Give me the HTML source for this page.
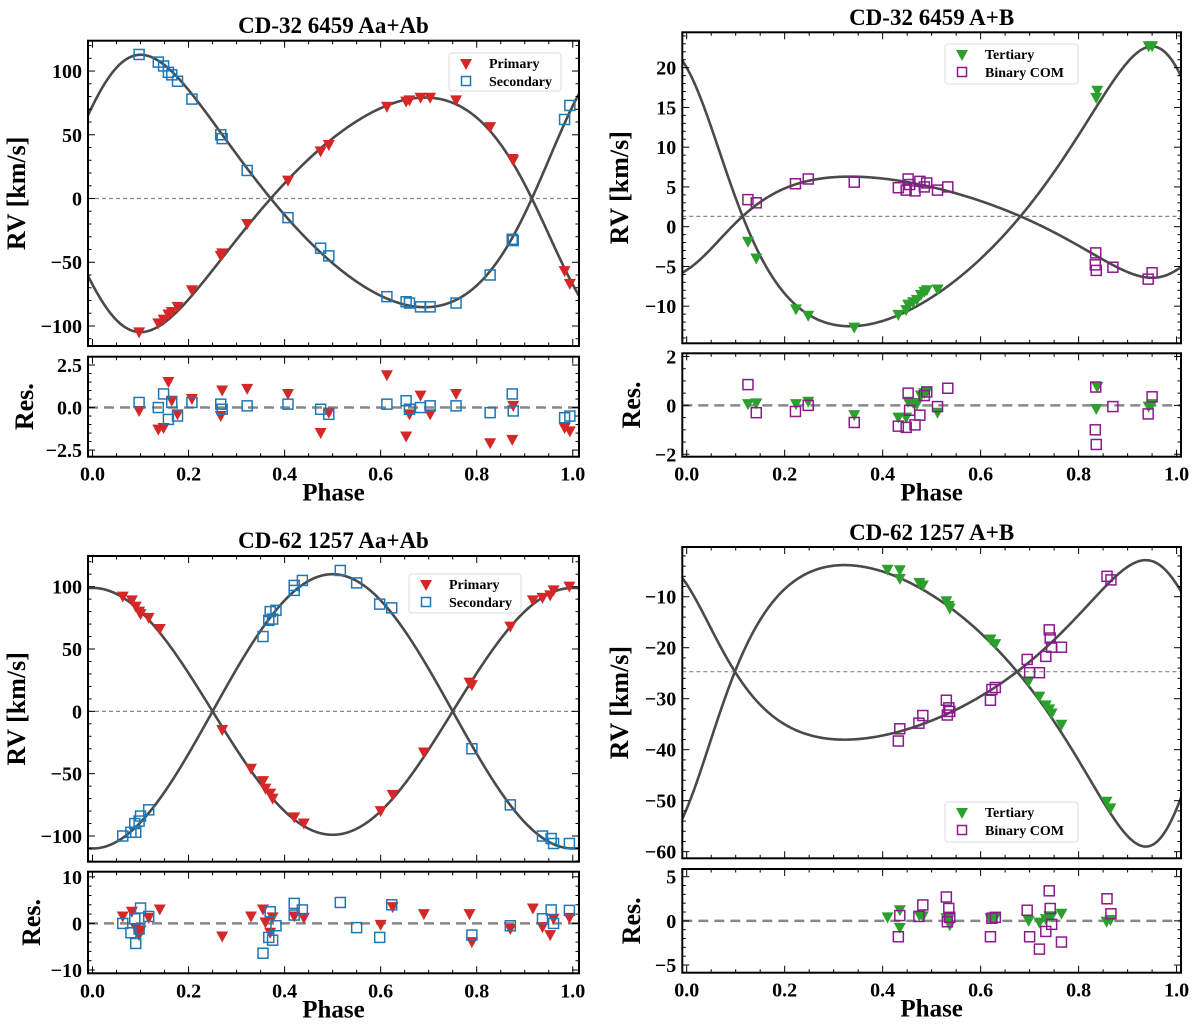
<!DOCTYPE html>
<html><head><meta charset="utf-8"><title>RV curves</title>
<style>
html,body{margin:0;padding:0;background:#fff;}
svg{display:block;font-family:"Liberation Serif",serif;}
</style></head>
<body>
<svg id="fig" width="1200" height="1028" viewBox="0 0 1200 1028" xmlns="http://www.w3.org/2000/svg"></svg>
<script>
// ---------- Panel 1: CD-32 6459 Aa+Ab ----------
const tlPriPhase=[0.097,0.137,0.148,0.158,0.165,0.177,0.207,0.267,0.27,0.322,0.407,0.475,0.492,0.613,0.653,0.66,0.683,0.703,0.757,0.828,0.874,0.876,0.983,0.994];
const tlPriRV=[-105,-98,-95,-91,-89,-85,-72,-45,-43,-20,14,37,42,72,76,77,79,79,77,56,31,30,-57,-67];
const tlPriRes=[-0.2,-1.3,-1.2,1.5,0.4,-0.4,0.5,-0.5,1.0,1.1,0.8,-1.5,-0.3,1.9,-1.7,-0.4,0.7,-0.4,0.8,-2.1,-1.9,0.1,-1.2,-1.4];
const tlSecPhase=[0.097,0.137,0.148,0.158,0.165,0.177,0.207,0.267,0.27,0.322,0.407,0.475,0.492,0.613,0.653,0.66,0.683,0.703,0.757,0.828,0.874,0.876,0.983,0.994];
const tlSecRV=[113,107,104,99,97,92,78,50,47,22,-15,-39,-45,-77,-81,-82,-85,-85,-82,-60,-32,-33,62,73];
const tlSecRes=[0.3,0.0,0.8,-0.7,0.3,-0.5,0.3,0.2,-0.1,0.1,0.2,-0.1,-0.4,0.2,0.4,-0.1,0.0,0.1,0.1,-0.3,0.8,-0.2,-0.6,-0.5];
// orbit: e, omega(deg), T0, K1, K2, gamma
const tlOrbit=[0.2,134,0.0136,92,99,0];

// ---------- Panel 2: CD-32 6459 A+B ----------
const trTerPhase=[0.125,0.142,0.223,0.248,0.342,0.432,0.448,0.452,0.462,0.47,0.478,0.485,0.49,0.512,0.836,0.838,0.943,0.95];
const trTerRV=[-1.9,-4.0,-10.4,-11.2,-12.7,-11.1,-10.5,-9.8,-9.5,-9.2,-8.6,-8.2,-8.0,-7.9,16.2,17.1,22.7,22.7];
const trTerRes=[0.05,0.08,0.05,0.15,-0.4,-0.5,-0.5,0.15,0.1,0.05,0.4,0.5,0.55,-0.3,-0.15,0.75,-0.05,0.05];
const trComPhase=[0.125,0.142,0.222,0.248,0.342,0.432,0.448,0.452,0.455,0.466,0.476,0.485,0.49,0.512,0.533,0.835,0.834,0.836,0.87,0.942,0.95];
const trComRV=[3.4,3.0,5.4,6.0,5.6,4.9,4.6,6.0,5.3,4.5,5.7,5.0,5.5,4.6,5.0,-3.3,-4.8,-5.5,-5.1,-6.6,-5.8];
const trComRes=[0.85,-0.3,-0.25,0.0,-0.7,-0.85,-0.9,0.5,-0.2,-0.8,-0.4,0.4,0.55,-0.05,0.7,0.75,-1.0,-1.6,-0.05,-0.35,0.35];
const trOrbit=[0.28,40,0.012,17.6,6.36,1.3];

// ---------- Panel 3: CD-62 1257 Aa+Ab ----------
const blPriPhase=[0.063,0.082,0.09,0.097,0.1,0.117,0.14,0.27,0.33,0.355,0.36,0.37,0.375,0.42,0.44,0.6,0.625,0.69,0.785,0.79,0.87,0.917,0.937,0.953,0.96,0.993];
const blPriRV=[92,89,84,80,78,75,66,-15,-46,-56,-62,-66,-70,-85,-90,-80,-67,-33,23,21,68,89,91,93,97,100];
const blPriRes=[1.5,2.5,-1,-2.5,-1.5,1.2,3,-2.8,1.5,3,0.2,-2,1.3,1.5,1.2,-0.3,3.5,2,2,-4,-1.2,3.2,-0.8,-2.5,1,1.2];
const blSecPhase=[0.063,0.08,0.088,0.09,0.097,0.1,0.117,0.355,0.367,0.37,0.375,0.382,0.42,0.42,0.437,0.516,0.55,0.598,0.623,0.79,0.87,0.937,0.955,0.96,0.993];
const blSecRV=[-100,-97,-90,-97,-88,-84,-79,60,73,80,74,81,97,101,105,113,103,86,83,-30,-75,-100,-102,-106,-106];
const blSecRes=[0,-2,1,-4.3,-1.2,3.3,1.5,-6.4,-3,2.5,-3.6,-0.5,1.8,4.3,2.9,4.5,-0.9,-3,4,-2.5,-0.5,1,2.9,0,2.8];
const blOrbit=[0.0,0,0.0,99,110,0];

// ---------- Panel 4: CD-62 1257 A+B ----------
const brTerPhase=[0.41,0.435,0.435,0.475,0.482,0.53,0.535,0.537,0.62,0.63,0.698,0.72,0.733,0.74,0.745,0.765,0.857,0.865];
const brTerRV=[-4.7,-4.8,-6.5,-7.3,-7.8,-10.9,-11.8,-12.3,-18.4,-19.3,-26.6,-29.6,-31.3,-32.1,-32.9,-35.1,-50.2,-51.5];
const brTerRes=[0.4,1.2,-0.8,0.6,0.5,0.3,0.2,-0.5,0.3,0.4,0,-0.2,0.2,0.5,0.5,0.8,-0.1,0.1];
const brComPhase=[0.432,0.435,0.474,0.482,0.53,0.532,0.535,0.537,0.62,0.623,0.63,0.695,0.7,0.72,0.733,0.74,0.742,0.745,0.765,0.858,0.866];
const brComRV=[-38.3,-35.9,-34.8,-33.3,-30.3,-33.2,-31.8,-32.5,-30.3,-28.2,-27.8,-22.3,-24.9,-24.9,-21.7,-16.5,-18.1,-19.9,-19.9,-6.0,-6.7];
const brComRes=[-1.8,0.6,0.5,1.8,2.7,-0.1,1.4,0.4,-1.8,0.3,0.4,1.2,-1.8,-3.2,-1.2,3.4,1.4,-0.4,-2.4,2.5,0.8];
const brOrbit=[0.3,216,0.99,27.6,17.6,-24.7];

const xTickLabels=["0.0","0.2","0.4","0.6","0.8","1.0"];

const NS="http://www.w3.org/2000/svg";
const svg=document.getElementById('fig');
function mk(tag,attrs,parent){const e=document.createElementNS(NS,tag);for(const k in attrs)e.setAttribute(k,attrs[k]);(parent||svg).appendChild(e);return e;}
function lin(p0,p1,d0,d1){return v=>p0+(v-d0)/(d1-d0)*(p1-p0);}
function fmt(v,dec){const s=Math.abs(v).toFixed(dec);return (v<0?"\u2212":"")+s;}

function rvModel(ph,orb,which){
  const e=orb[0],w=orb[1]*Math.PI/180,T0=orb[2],K=which===1?orb[3]:orb[4],g=orb[5];
  const M=2*Math.PI*(ph-T0);
  let E=M;for(let i=0;i<30;i++){E=E-(E-e*Math.sin(E)-M)/(1-e*Math.cos(E));}
  const nu=2*Math.atan2(Math.sqrt(1+e)*Math.sin(E/2),Math.sqrt(1-e)*Math.cos(E/2));
  const s=Math.cos(nu+w)+e*Math.cos(w);
  return which===1?g+K*s:g-K*s;
}

let clipId=0;
function frameAxes(g,fx0,fx1,fy0,fy1,sx,sy,xlim,ylim,xmaj,xmin,ymaj,ymin){
  const tk=mk('g',{stroke:'#000','stroke-width':1},g);
  
  
  const ticks=(lo,hi,step)=>{const a=[];const s=Math.ceil(lo/step-1e-6);for(let i=s;i*step<=hi+1e-6;i++)a.push(+(i*step).toFixed(6));return a;};
  ticks(xlim[0],xlim[1],xmin).forEach(v=>{const x=sx(v);const maj=Math.abs(v/xmaj-Math.round(v/xmaj))<1e-6;const L=maj?7:3.5;
    mk('line',{x1:x,x2:x,y1:fy1,y2:fy1-L},tk);mk('line',{x1:x,x2:x,y1:fy0,y2:fy0+L},tk);});
  ticks(ylim[0],ylim[1],ymin).forEach(v=>{const y=sy(v);const maj=Math.abs(v/ymaj-Math.round(v/ymaj))<1e-6;const L=maj?7:3.5;
    mk('line',{x1:fx0,x2:fx0+L,y1:y,y2:y},tk);mk('line',{x1:fx1,x2:fx1-L,y1:y,y2:y},tk);});
  const fr=mk('rect',{x:fx0,y:fy0,width:fx1-fx0,height:fy1-fy0,fill:'none',stroke:'#000','stroke-width':2},g);
  
  
}

function tri(g,x,y,col){return mk('polygon',{points:`${x-6},${y-5} ${x+6},${y-5} ${x},${y+6}`,fill:col},g);}
function sq(g,x,y,col){return mk('rect',{x:x-5,y:y-5,width:10,height:10,fill:'none',stroke:col,'stroke-width':1.5},g);}

function panel(c){
  const g=mk('g',{});
  
  
  const sx=lin(c.fx0,c.fx1,c.xlim[0],c.xlim[1]);
  const sy=lin(c.my1,c.my0,c.ylim[0],c.ylim[1]);
  const ry=lin(c.ry1,c.ry0,c.rlim[0],c.rlim[1]);
  const t=mk('text',{x:(c.fx0+c.fx1)/2,y:c.titleY,'text-anchor':'middle','font-size':23,'font-weight':'bold'},g);t.textContent=c.title;
  
  
  clipId++;const cid='clip'+clipId;
  const cp=mk('clipPath',{id:cid},g);mk('rect',{x:c.fx0,y:c.my0,width:c.fx1-c.fx0,height:c.my1-c.my0},cp);
  const hl=mk('line',{x1:c.fx0,x2:c.fx1,y1:sy(c.orbit[5]),y2:sy(c.orbit[5]),stroke:'#888','stroke-width':1.2,'stroke-dasharray':'4,3'},g);
  
  
  [1,2].forEach(w=>{let d='';for(let i=0;i<=600;i++){const ph=c.xlim[0]+(c.xlim[1]-c.xlim[0])*i/600;d+=(i?'L':'M')+sx(ph).toFixed(2)+','+sy(rvModel(ph,c.orbit,w)).toFixed(2);}
    const p=mk('path',{d:d,fill:'none',stroke:'#4a4a4a','stroke-width':2.6,'clip-path':`url(#${cid})`},g);
    
    });
  const m1=mk('g',{},g);
  
  
  c.p1.forEach((ph,i)=>{const e=tri(m1,sx(ph),sy(c.v1[i]),c.c1);
    
    });
  const m2=mk('g',{},g);
  
  
  c.p2.forEach((ph,i)=>{const e=sq(m2,sx(ph),sy(c.v2[i]),c.c2);
    
    });
  frameAxes(g,c.fx0,c.fx1,c.my0,c.my1,sx,sy,c.xlim,c.ylim,0.2,0.05,c.ymaj,c.ymin);
  c.yLabels.forEach(v=>{const tt=mk('text',{x:c.fx0-6,y:sy(v)+7,'text-anchor':'end','font-size':20,'font-weight':'bold'},g);tt.textContent=fmt(v,0);
    
    });
  const rl=mk('line',{x1:c.fx0,x2:c.fx1,y1:ry(0),y2:ry(0),stroke:'#888','stroke-width':2.5,'stroke-dasharray':'10,6'},g);
  
  
  const r1=mk('g',{},g);
  
  
  c.p1.forEach((ph,i)=>{const e=tri(r1,sx(ph),ry(c.r1[i]),c.c1);
    
    });
  const r2=mk('g',{},g);
  
  
  c.p2.forEach((ph,i)=>{const e=sq(r2,sx(ph),ry(c.r2[i]),c.c2);
    
    });
  frameAxes(g,c.fx0,c.fx1,c.ry0,c.ry1,sx,ry,c.xlim,c.rlim,0.2,0.05,c.rmaj,c.rmin);
  c.rLabels.forEach(v=>{const tt=mk('text',{x:c.fx0-6,y:ry(v)+7,'text-anchor':'end','font-size':20,'font-weight':'bold'},g);tt.textContent=fmt(v,c.rDec);
    
    });
  xTickLabels.forEach((s,i)=>{const tt=mk('text',{x:sx(i*0.2),y:c.ry1+24,'text-anchor':'middle','font-size':20,'font-weight':'bold'},g);tt.textContent=s;
    
    });
  const xl=mk('text',{x:(c.fx0+c.fx1)/2,y:c.ry1+44,'text-anchor':'middle','font-size':25,'font-weight':'bold'},g);xl.textContent='Phase';
  
  
  const yl=mk('text',{x:0,y:0,'text-anchor':'middle','font-size':26,'font-weight':'bold',transform:`translate(${c.ylx},${(c.my0+c.my1)/2}) rotate(-90)`},g);yl.textContent='RV [km/s]';
  
  
  const rlb=mk('text',{x:0,y:0,'text-anchor':'middle','font-size':26,'font-weight':'bold',transform:`translate(${c.rlx},${(c.ry0+c.ry1)/2}) rotate(-90)`},g);rlb.textContent='Res.';
  
  
  const L=c.leg;
  const lg=mk('g',{},g);
  
  
  mk('rect',{x:L[0],y:L[1],width:L[2],height:L[3],rx:3,fill:'#fff',stroke:'#ddd','stroke-width':1},lg);
  const e1=mk('g',{},lg);
  
  
  tri(e1,L[0]+17,L[1]+11,c.c1);
  const t1=mk('text',{x:L[0]+40,y:L[1]+15,'font-size':14,'font-weight':'bold'},e1);t1.textContent=c.l1;
  const e2=mk('g',{},lg);
  
  
  mk('rect',{x:L[0]+12.5,y:L[1]+23.5,width:9,height:9,fill:'none',stroke:c.c2,'stroke-width':1.5},e2);
  const t2=mk('text',{x:L[0]+40,y:L[1]+33,'font-size':14,'font-weight':'bold'},e2);t2.textContent=c.l2;
}

const RED='#d62728',BLUE='#1f77b4',GREEN='#2ca02c',PURP='#8b1a8b';
panel({name:'panel-cd32-aa-ab',title:'CD-32 6459 Aa+Ab',fx0:88,fx1:579,xlim:[-0.0094,1.013],my0:40.7,my1:346,ylim:[-115.7,123.8],ry0:356.7,ry1:456.7,rlim:[-2.89,2.99],
  ymaj:50,ymin:10,rmaj:2.5,rmin:0.5,yLabels:[-100,-50,0,50,100],rLabels:[-2.5,0,2.5],rDec:1,titleY:33,ylx:25,rlx:33,
  orbit:tlOrbit,p1:tlPriPhase,v1:tlPriRV,r1:tlPriRes,p2:tlSecPhase,v2:tlSecRV,r2:tlSecRes,c1:RED,c2:BLUE,l1:'Primary',l2:'Secondary',leg:[449,53,112,38]});
panel({name:'panel-cd32-a-b',title:'CD-32 6459 A+B',fx0:682.3,fx1:1181,xlim:[-0.009,1.009],my0:32.3,my1:343.3,ylim:[-14.67,24.45],ry0:353.3,ry1:456.7,rlim:[-2.1,2.13],
  ymaj:5,ymin:1,rmaj:2,rmin:0.5,yLabels:[-10,-5,0,5,10,15,20],rLabels:[-2,0,2],rDec:0,titleY:25,ylx:628,rlx:640,
  orbit:trOrbit,p1:trTerPhase,v1:trTerRV,r1:trTerRes,p2:trComPhase,v2:trComRV,r2:trComRes,c1:GREEN,c2:PURP,l1:'Tertiary',l2:'Binary COM',leg:[945,44,133,40]});
panel({name:'panel-cd62-aa-ab',title:'CD-62 1257 Aa+Ab',fx0:88,fx1:579,xlim:[-0.0094,1.013],my0:556,my1:861.7,ylim:[-120.6,124.6],ry0:871.7,ry1:973.3,rlim:[-10.7,11.1],
  ymaj:50,ymin:10,rmaj:10,rmin:2,yLabels:[-100,-50,0,50,100],rLabels:[-10,0,10],rDec:0,titleY:548,ylx:25,rlx:40,
  orbit:blOrbit,p1:blPriPhase,v1:blPriRV,r1:blPriRes,p2:blSecPhase,v2:blSecRV,r2:blSecRes,c1:RED,c2:BLUE,l1:'Primary',l2:'Secondary',leg:[409,574,112,39]});
panel({name:'panel-cd62-a-b',title:'CD-62 1257 A+B',fx0:682.3,fx1:1181,xlim:[-0.009,1.009],my0:547,my1:858.3,ylim:[-61.3,-0.25],ry0:869,ry1:972.7,rlim:[-5.87,5.87],
  ymaj:10,ymin:2,rmaj:5,rmin:1,yLabels:[-60,-50,-40,-30,-20,-10],rLabels:[-5,0,5],rDec:0,titleY:540,ylx:628,rlx:640,
  orbit:brOrbit,p1:brTerPhase,v1:brTerRV,r1:brTerRes,p2:brComPhase,v2:brComRV,r2:brComRes,c1:GREEN,c2:PURP,l1:'Tertiary',l2:'Binary COM',leg:[945,802,133,40]});
</script>
</body></html>
